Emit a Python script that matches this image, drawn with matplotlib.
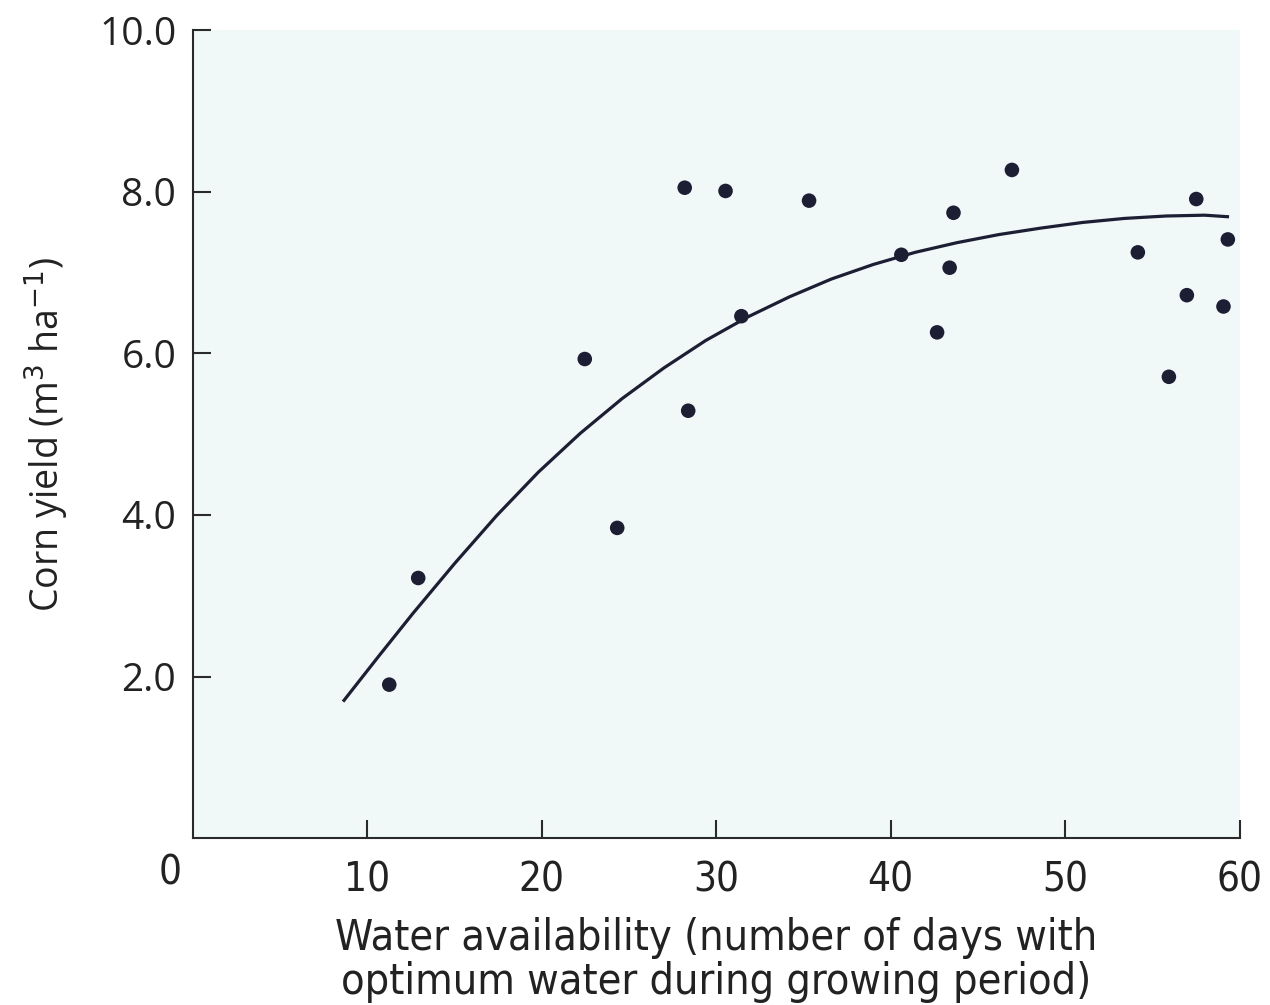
import matplotlib
matplotlib.use("Agg")
import matplotlib.pyplot as plt

# Scatter observations
water_days = [11.25, 12.91, 22.46, 24.32, 28.19, 28.39, 30.53, 31.44, 35.32, 40.61,
              42.66, 43.38, 43.60, 46.95, 54.17, 55.95, 56.98, 57.52, 59.08, 59.33]
corn_yield = [1.90, 3.22, 5.93, 3.84, 8.05, 5.29, 8.01, 6.46, 7.89, 7.22,
              6.26, 7.06, 7.74, 8.27, 7.25, 5.71, 6.72, 7.91, 6.58, 7.41]

# Fitted response curve
curve_x = [8.6, 10.6, 12.6, 15.0, 17.4, 19.8, 22.2, 24.6, 27.0, 29.4, 31.8, 34.2,
           36.6, 39.0, 41.4, 43.8, 46.2, 48.6, 51.0, 53.4, 55.8, 58.0, 59.4]
curve_y = [1.69, 2.24, 2.78, 3.40, 3.99, 4.53, 5.01, 5.44, 5.82, 6.16, 6.45, 6.70,
           6.92, 7.10, 7.25, 7.37, 7.47, 7.55, 7.62, 7.67, 7.70, 7.71, 7.69]

x_ticks = [10, 20, 30, 40, 50, 60]
y_ticks = [2.0, 4.0, 6.0, 8.0, 10.0]
y_tick_labels = ["2.0", "4.0", "6.0", "8.0", "10.0"]

ink = "#1c1f33"
txt = "#222222"

fig = plt.figure(figsize=(12.7, 10.05), dpi=100)
ax = fig.add_axes([0.152, 0.166, 0.824, 0.804])
ax.set_facecolor("#f0f8f8")

ax.plot(curve_x, curve_y, color=ink, lw=2.3, solid_capstyle="butt",
        solid_joinstyle="round", zorder=3)
ax.scatter(water_days, corn_yield, s=110, color=ink, edgecolors="none", zorder=4)

ax.set_xlim(0, 60)
ax.set_ylim(0, 10)
for s in ["top", "right"]:
    ax.spines[s].set_visible(False)
for s in ["left", "bottom"]:
    ax.spines[s].set_color("#2a2a2a")
    ax.spines[s].set_linewidth(1.5)

xfont = dict(family="DejaVu Sans", stretch="condensed", size=29, color=txt)
lfont = dict(family="DejaVu Sans", stretch="condensed", size=31, color=txt)

ax.set_xticks(x_ticks)
ax.set_xticklabels([str(v) for v in x_ticks], fontdict=xfont)
ax.set_yticks(y_ticks)
ax.set_yticklabels(y_tick_labels, fontfamily="Open Sans", fontsize=28, color=txt)
ax.tick_params(axis="both", direction="in", length=13, width=1.5, color="#2a2a2a")
ax.tick_params(axis="x", pad=16)
ax.tick_params(axis="y", pad=12)

ax.text(-0.022, -0.044, "0", transform=ax.transAxes, ha="center", va="center",
        fontdict=xfont)

ax.set_xlabel("Water availability (number of days with\noptimum water during growing period)",
              fontdict=lfont, labelpad=12, linespacing=1.05)
ax.set_ylabel("Corn yield (m$^{3}$ ha$^{-1}$)", fontfamily="Open Sans", fontsize=27,
              color=txt, labelpad=20)

fig.savefig("out.png", dpi=100, facecolor="white")
